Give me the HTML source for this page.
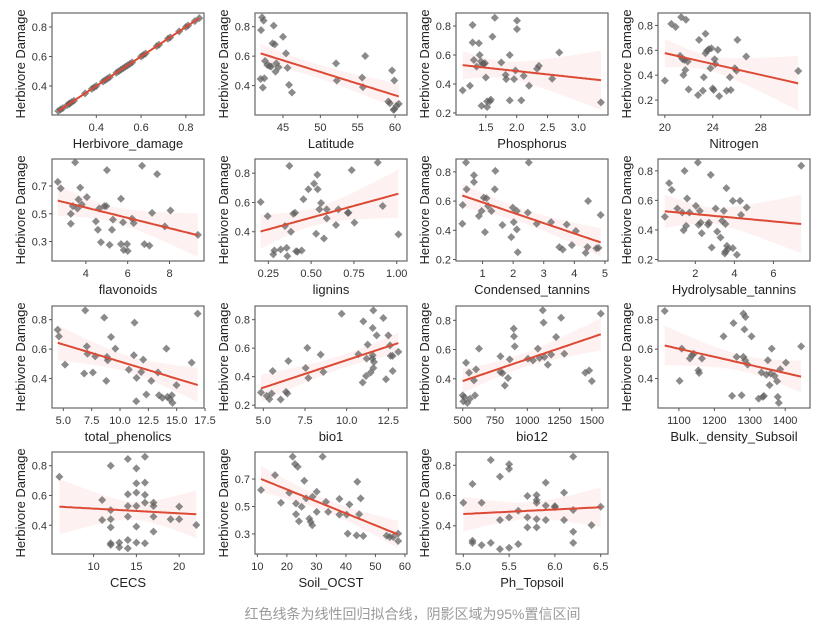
<!DOCTYPE html>
<html><head><meta charset="utf-8"><style>
html,body{margin:0;padding:0;background:#fff;}
svg{display:block;font-family:"Liberation Sans",Arial,sans-serif;}
.cap{position:absolute;left:0;top:604px;width:825px;text-align:center;font-family:"Liberation Sans","Noto Sans CJK SC",sans-serif;font-size:14px;color:#9a9a9a;}
</style></head><body>
<div style="position:relative;width:825px;height:630px;">
<svg id="chart" width="825" height="630"></svg>
<div class="cap">红色线条为线性回归拟合线，阴影区域为95%置信区间</div>
</div>
<script>
const names = ["Herbivore_damage","Latitude","Phosphorus","Nitrogen","flavonoids","lignins","Condensed_tannins","Hydrolysable_tannins","total_phenolics","bio1","bio12","Bulk._density_Subsoil","CECS","Soil_OCST","Ph_Topsoil"];
const x1 = [0.23,0.24,0.25,0.27,0.28,0.28,0.29,0.30,0.35,0.38,0.39,0.40,0.43,0.44,0.45,0.46,0.49,0.50,0.51,0.52,0.53,0.54,0.55,0.56,0.60,0.61,0.62,0.67,0.68,0.72,0.73,0.77,0.80,0.81,0.84,0.86];
const y1 = [0.23,0.24,0.25,0.27,0.28,0.28,0.29,0.30,0.35,0.38,0.39,0.40,0.43,0.44,0.45,0.46,0.49,0.50,0.51,0.52,0.53,0.54,0.55,0.56,0.60,0.61,0.62,0.67,0.68,0.72,0.73,0.77,0.80,0.81,0.84,0.86];
const x2 = [42.2,42.06,42.4,42.0,42.5,42.3,42.6,42.9,43.2,43.4,43.6,43.75,43.9,44.1,44.0,44.4,45,45.4,45.6,45.8,46.2,52.1,52.2,55.6,56.0,55.7,59.6,59.9,59.1,59.3,59.8,60.2,60.5,59.9];
const y2 = [0.863,0.777,0.841,0.445,0.45,0.386,0.567,0.54,0.533,0.529,0.687,0.807,0.68,0.551,0.495,0.524,0.732,0.619,0.52,0.405,0.353,0.551,0.434,0.454,0.601,0.389,0.502,0.434,0.292,0.28,0.235,0.262,0.276,0.24];
const x3 = [1.124,1.242,1.285,1.285,1.306,1.35,1.387,1.40,1.42,1.43,1.446,1.468,1.484,1.5,1.52,1.52,1.565,1.58,1.607,1.645,1.75,1.82,1.83,1.887,1.887,1.957,1.98,2.005,2.005,2.075,2.113,2.2,2.33,2.36,2.575,2.69,3.366];
const y3 = [0.356,0.388,0.807,0.686,0.566,0.52,0.681,0.6,0.555,0.25,0.537,0.537,0.544,0.445,0.241,0.28,0.28,0.292,0.727,0.857,0.548,0.463,0.434,0.6,0.287,0.434,0.493,0.837,0.779,0.287,0.456,0.388,0.505,0.525,0.436,0.617,0.273];
const x4 = [20,20.54,20.9,21.36,21.76,21.27,21.49,21.63,21.55,21.71,21.9,21.98,22.77,22.85,23.17,23.25,23.39,23.39,23.53,23.66,23.8,23.88,23.99,24.07,24.15,24.2,24.42,24.53,25.15,25.42,25.5,25.83,25.97,26.05,26.78,31.12];
const y4 = [0.356,0.813,0.787,0.867,0.846,0.555,0.528,0.523,0.402,0.442,0.51,0.286,0.24,0.684,0.275,0.383,0.733,0.576,0.598,0.609,0.456,0.617,0.294,0.281,0.528,0.49,0.604,0.232,0.275,0.383,0.281,0.456,0.437,0.684,0.55,0.434];
const x5 = [2.656,2.8,3.28,3.28,3.376,3.488,3.6,3.648,3.728,3.808,4.048,4.48,4.576,4.64,4.72,4.88,4.976,5.008,5.136,5.248,5.296,5.68,5.68,5.776,5.808,5.968,6.0,6.208,6.288,6.688,6.8,7.04,7.168,7.408,7.776,8.048,9.36];
const y5 = [0.729,0.683,0.499,0.428,0.555,0.87,0.538,0.603,0.688,0.567,0.62,0.445,0.385,0.538,0.295,0.555,0.555,0.814,0.276,0.385,0.458,0.608,0.281,0.438,0.239,0.281,0.232,0.465,0.433,0.845,0.281,0.271,0.506,0.785,0.409,0.523,0.348];
const x6 = [0.205,0.246,0.279,0.285,0.322,0.347,0.357,0.361,0.373,0.382,0.396,0.406,0.412,0.42,0.445,0.455,0.484,0.517,0.529,0.536,0.538,0.548,0.558,0.575,0.591,0.591,0.645,0.659,0.714,0.718,0.737,0.753,0.889,0.918,1.01];
const y6 = [0.603,0.507,0.245,0.272,0.279,0.439,0.29,0.233,0.85,0.4,0.523,0.53,0.267,0.263,0.272,0.622,0.69,0.729,0.386,0.789,0.69,0.553,0.596,0.354,0.491,0.553,0.446,0.553,0.53,0.53,0.821,0.462,0.873,0.576,0.382];
const x7 = [0.34,0.35,0.46,0.48,0.72,0.72,0.88,0.97,1.04,1.08,1.13,1.18,1.29,1.4,1.42,1.65,1.94,1.99,2.02,2.12,2.12,2.15,2.48,2.51,2.77,3.24,3.51,3.62,3.75,3.92,4.05,4.37,4.43,4.45,4.72,4.79,4.86];
const y7 = [0.445,0.573,0.864,0.681,0.777,0.731,0.498,0.532,0.624,0.388,0.619,0.566,0.532,0.681,0.807,0.436,0.353,0.555,0.456,0.406,0.532,0.25,0.521,0.864,0.445,0.456,0.285,0.269,0.44,0.299,0.395,0.246,0.285,0.601,0.276,0.28,0.505];
const x8 = [0.44,0.66,0.79,1.08,1.33,1.4,1.45,1.53,1.58,1.7,2.03,2.13,2.17,2.23,2.28,2.33,2.65,2.7,2.79,2.84,3.04,3.12,3.29,3.37,3.46,3.51,3.54,3.54,3.59,3.62,3.67,3.92,3.92,4.13,4.29,4.34,4.63,7.42];
const y8 = [0.489,0.717,0.671,0.545,0.518,0.398,0.8,0.428,0.613,0.518,0.563,0.856,0.435,0.529,0.45,0.378,0.435,0.45,0.773,0.281,0.545,0.389,0.349,0.462,0.529,0.241,0.44,0.254,0.683,0.292,0.27,0.597,0.277,0.232,0.597,0.502,0.552,0.834];
const x9 = [4.5,4.61,5.15,6.84,6.93,7.07,7.13,7.61,7.81,8.61,8.79,8.85,8.91,9.21,9.59,10.78,11.22,11.28,11.43,11.46,11.87,12.05,12.32,12.76,13.35,13.44,13.74,14.09,14.18,14.39,14.57,14.63,14.98,16.32,16.85];
const y9 = [0.732,0.687,0.495,0.434,0.863,0.619,0.569,0.441,0.551,0.814,0.384,0.547,0.524,0.682,0.603,0.461,0.558,0.78,0.246,0.405,0.445,0.529,0.292,0.384,0.441,0.287,0.269,0.603,0.276,0.26,0.287,0.235,0.355,0.508,0.841];
const x10 = [4.86,5.2,5.36,5.5,5.56,6.04,6.36,6.44,6.5,7.54,7.64,7.7,8.44,8.6,9.7,10.7,10.96,11.0,11.16,11.2,11.26,11.44,11.54,11.56,11.56,11.6,11.64,11.8,12.2,12.36,12.5,12.6,12.64,12.76,12.76,13.1,11.6];
const y10 = [0.289,0.265,0.242,0.282,0.44,0.24,0.293,0.282,0.51,0.461,0.602,0.391,0.555,0.433,0.842,0.557,0.359,0.788,0.405,0.527,0.625,0.429,0.527,0.55,0.742,0.461,0.503,0.69,0.812,0.382,0.69,0.62,0.546,0.546,0.44,0.574,0.865];
const x11 = [500,505,513,526,536,549,556,587,595,603,626,792,792,808,826,851,864,895,897,903,1005,1044,1082,1095,1120,1126,1133,1159,1185,1223,1262,1287,1449,1479,1500,1569];
const y11 = [0.286,0.245,0.274,0.51,0.235,0.441,0.263,0.389,0.286,0.464,0.606,0.553,0.446,0.439,0.354,0.405,0.533,0.743,0.69,0.622,0.537,0.526,0.606,0.542,0.869,0.784,0.549,0.496,0.565,0.686,0.818,0.571,0.441,0.457,0.384,0.846];
const x12 = [1060,1102,1108,1131,1137,1142,1155,1157,1165,1226,1250,1254,1263,1277,1282,1282,1287,1288,1285,1294,1305,1325,1333,1337,1340,1347,1351,1356,1362,1370,1377,1382,1379,1386,1402,1445,1359];
const y12 = [0.859,0.384,0.603,0.536,0.558,0.569,0.456,0.438,0.536,0.687,0.282,0.777,0.547,0.287,0.841,0.547,0.524,0.818,0.734,0.495,0.687,0.264,0.441,0.276,0.282,0.427,0.524,0.355,0.603,0.418,0.382,0.235,0.276,0.463,0.508,0.619,0.434];
const x13 = [6,11,11,12,12,12,12,12,12,13,13,14,14,14,14,14,14,15,15,15,15,15,15,16,16,16,16,16,17,17,17,17,19,20,20,22];
const y13 = [0.726,0.57,0.435,0.8,0.502,0.44,0.386,0.279,0.268,0.283,0.252,0.845,0.608,0.529,0.458,0.301,0.245,0.782,0.681,0.619,0.529,0.391,0.283,0.86,0.686,0.604,0.552,0.279,0.552,0.529,0.458,0.357,0.44,0.525,0.44,0.402];
const x14 = [11.24,15.98,18.0,20.8,21.96,22.75,23.09,23.09,23.66,24.1,25.0,25.9,26.5,27.6,28.06,28.6,28.7,30.1,30.1,32.1,33.25,34.0,37.8,37.8,40.25,40.6,41.2,43.6,43.86,44.5,45.0,45.9,53.8,54.9,56.05,57.7,57.7];
const y14 = [0.62,0.729,0.527,0.6,0.863,0.81,0.522,0.444,0.79,0.393,0.498,0.688,0.559,0.412,0.388,0.363,0.571,0.461,0.607,0.863,0.534,0.461,0.556,0.441,0.441,0.302,0.515,0.29,0.68,0.444,0.559,0.285,0.288,0.278,0.278,0.302,0.249];
const x15 = [5.0,5.1,5.1,5.1,5.2,5.2,5.3,5.3,5.4,5.4,5.4,5.5,5.5,5.5,5.5,5.6,5.6,5.7,5.7,5.7,5.8,5.8,5.8,5.8,5.8,5.9,5.9,5.9,6.0,6.0,6.1,6.1,6.2,6.2,6.2,6.2,6.4,6.5];
const y15 = [0.552,0.676,0.301,0.287,0.552,0.272,0.835,0.287,0.725,0.438,0.245,0.807,0.776,0.455,0.254,0.499,0.278,0.597,0.455,0.389,0.603,0.57,0.552,0.444,0.389,0.685,0.533,0.438,0.53,0.522,0.619,0.438,0.857,0.504,0.36,0.287,0.404,0.526];
const xs = [x1,x2,x3,x4,x5,x6,x7,x8,x9,x10,x11,x12,x13,x14,x15];
const ys = [y1,y2,y3,y4,y5,y6,y7,y8,y9,y10,y11,y12,y13,y14,y15];
const xTicks = [[0.4,0.6,0.8],[45,50,55,60],[1.5,2.0,2.5,3.0],[20,24,28],[4,6,8],[0.25,0.5,0.75,1.0],[1,2,3,4,5],[2,4,6],[5,7.5,10,12.5,15,17.5],[5,7.5,10,12.5],[500,750,1000,1250,1500],[1100,1200,1300,1400],[10,15,20],[10,20,30,40,50,60],[5.0,5.5,6.0,6.5]];
const xTickLabels = [["0.4","0.6","0.8"],["45","50","55","60"],["1.5","2.0","2.5","3.0"],["20","24","28"],["4","6","8"],["0.25","0.50","0.75","1.00"],["1","2","3","4","5"],["2","4","6"],["5.0","7.5","10.0","12.5","15.0","17.5"],["5.0","7.5","10.0","12.5"],["500","750","1000","1250","1500"],["1100","1200","1300","1400"],["10","15","20"],["10","20","30","40","50","60"],["5.0","5.5","6.0","6.5"]];
const yTicks = [[0.4,0.6,0.8],[0.4,0.6,0.8],[0.2,0.4,0.6,0.8],[0.2,0.4,0.6,0.8],[0.3,0.5,0.7],[0.4,0.6,0.8],[0.2,0.4,0.6,0.8],[0.2,0.4,0.6,0.8],[0.4,0.6,0.8],[0.2,0.4,0.6,0.8],[0.4,0.6,0.8],[0.4,0.6,0.8],[0.4,0.6,0.8],[0.3,0.5,0.7],[0.4,0.6,0.8]];
const xDom = [[0.202,0.881],[41.25,61.6],[1.016,3.48],[19.43,32.1],[2.38,9.65],[0.172,1.06],[0.133,5.1],[0.09,7.87],[4.0,17.41],[4.5,13.62],[448,1625],[1041,1470],[5.14,22.9],[9.2,60.7],[4.92,6.58]];
const yDom = [[0.203,0.895],[0.2,0.893],[0.186,0.89],[0.08,0.9],[0.16,0.894],[0.2,0.897],[0.19,0.888],[0.19,0.88],[0.2,0.893],[0.18,0.896],[0.2,0.898],[0.2,0.893],[0.207,0.892],[0.154,0.897],[0.213,0.888]];

const NS='http://www.w3.org/2000/svg';
const svg=document.getElementById('chart');
function el(tag,attrs,parent){const e=document.createElementNS(NS,tag);for(const k in attrs)e.setAttribute(k,attrs[k]);(parent||svg).appendChild(e);return e;}
const colL=[52,255,456,658], rowT=[13,159,306,452], PW=152, PH=102;

for(let p=0;p<15;p++){
  const L=colL[p%4], T=rowT[Math.floor(p/4)], R=L+PW, B=T+PH;
  const xd=xDom[p], yd=yDom[p];
  const sx=v=>L+(v-xd[0])/(xd[1]-xd[0])*PW;
  const sy=v=>B-(v-yd[0])/(yd[1]-yd[0])*PH;
  const g=el('g',{});
  
  
  const clipId='c'+p;
  const cp=el('clipPath',{id:clipId},g); el('rect',{x:L,y:T,width:PW,height:PH},cp);
  const X=xs[p],Y=ys[p],n=X.length;
  let mx=0,my=0;for(let i=0;i<n;i++){mx+=X[i];my+=Y[i];}mx/=n;my/=n;
  let sxx=0,sxy=0;for(let i=0;i<n;i++){sxx+=(X[i]-mx)**2;sxy+=(X[i]-mx)*(Y[i]-my);}
  const b=sxy/sxx,a=my-b*mx;
  let sse=0;for(let i=0;i<n;i++)sse+=(Y[i]-a-b*X[i])**2;
  const s=Math.sqrt(sse/(n-2)),t=2.03;
  const xmin=Math.min(...X),xmax=Math.max(...X);
  const up=[],lo=[],ln=[];
  for(let k=0;k<=60;k++){const xv=xmin+(xmax-xmin)*k/60;const yh=a+b*xv;const se=s*Math.sqrt(1/n+(xv-mx)**2/sxx);
    up.push(sx(xv).toFixed(1)+','+sy(yh+t*se).toFixed(1));lo.push(sx(xv).toFixed(1)+','+sy(yh-t*se).toFixed(1));ln.push(sx(xv).toFixed(1)+','+sy(yh).toFixed(1));}
  const rib=el('polygon',{points:up.concat(lo.reverse()).join(' '),fill:'#fbe3df','fill-opacity':'0.45','clip-path':'url(#'+clipId+')'},g);
  
  
  for(let i=0;i<n;i++){const cx=sx(X[i]),cy=sy(Y[i]),r=4;
    const d=el('polygon',{points:`${cx},${cy-r} ${cx+r},${cy} ${cx},${cy+r} ${cx-r},${cy}`,fill:'#5e5e5e','fill-opacity':'0.72'},g);
    
    }
  const line=el('polyline',{points:ln.join(' '),fill:'none',stroke:'#dc4a35','stroke-width':'2'},g);
  
  
  el('rect',{x:L,y:T,width:PW,height:PH,fill:'none',stroke:'#666','stroke-width':'1.2'},g);
  xTicks[p].forEach((v,i)=>{const x=sx(v);el('line',{x1:x,y1:B,x2:x,y2:B+3,stroke:'#555'},g);
    const tx=el('text',{x:x,y:B+16,'text-anchor':'middle','font-size':'11',fill:'#333'},g);tx.textContent=xTickLabels[p][i];
    
    });
  yTicks[p].forEach(v=>{const y=sy(v);el('line',{x1:L-3,y1:y,x2:L,y2:y,stroke:'#555'},g);
    const ty=el('text',{x:L-5,y:y+4,'text-anchor':'end','font-size':'11',fill:'#333'},g);ty.textContent=v.toFixed(1);
    
    });
  const xt=el('text',{x:L+PW/2,y:B+33,'text-anchor':'middle','font-size':'13',fill:'#222'},g);xt.textContent=names[p];
  
  
  const yt=el('text',{x:0,y:0,transform:`translate(${L-27},${T+PH/2}) rotate(-90)`,'text-anchor':'middle','font-size':'13',fill:'#222'},g);yt.textContent='Herbivore Damage';
  
  
}
</script>
</body></html>
